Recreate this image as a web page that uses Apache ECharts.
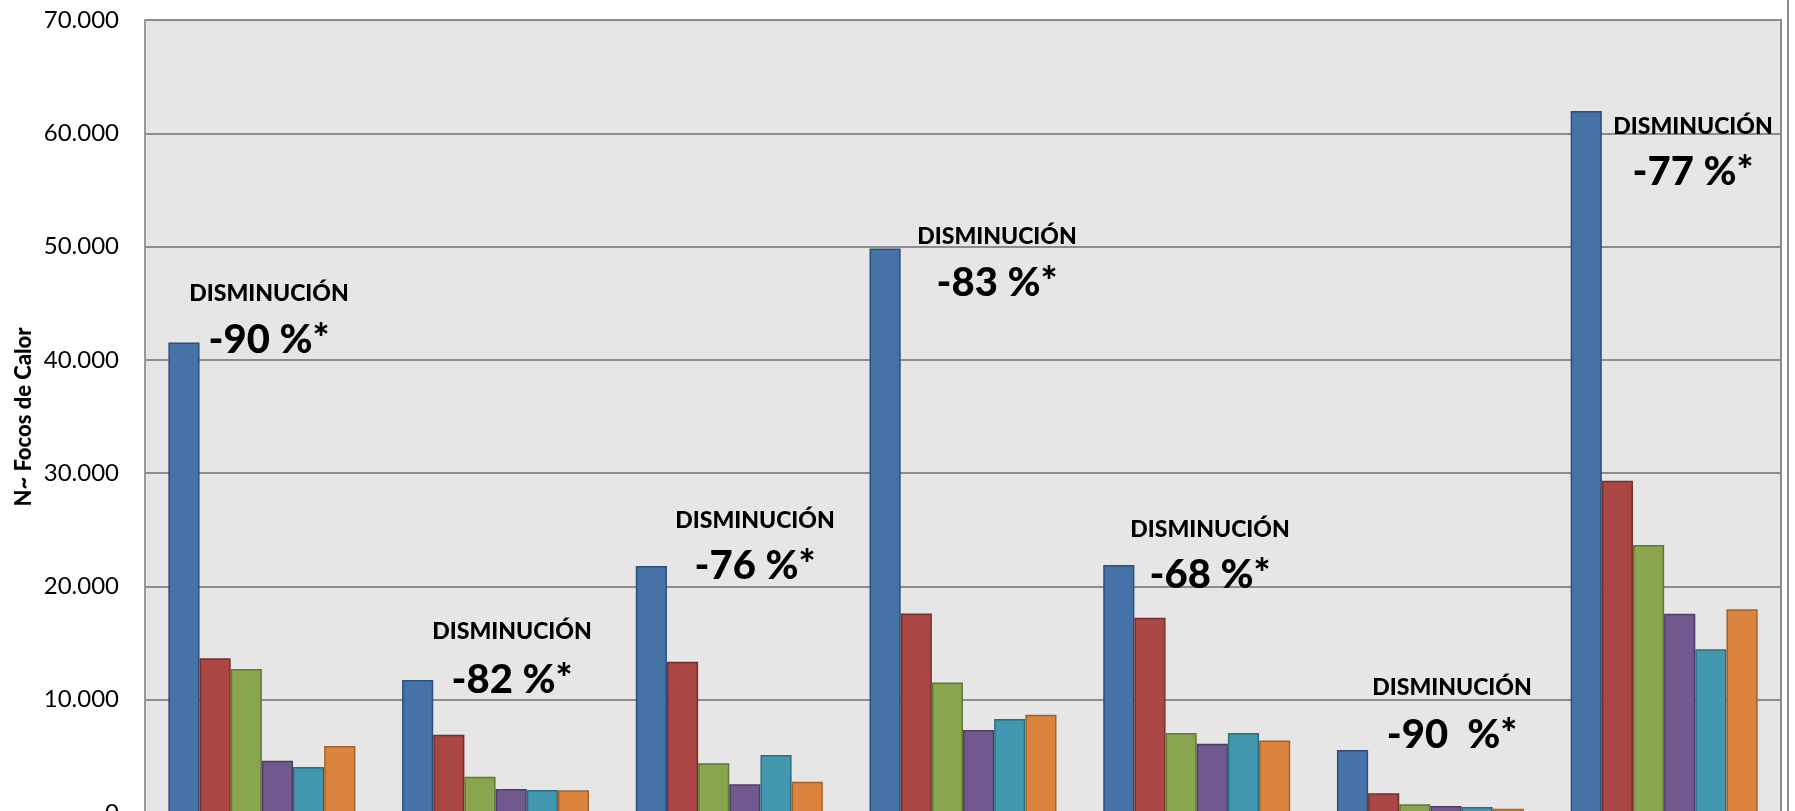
<!DOCTYPE html>
<html>
<head>
<meta charset="utf-8">
<script src="https://cdn.jsdelivr.net/npm/echarts@6/dist/echarts.min.js"></script>
<style>
html,body{margin:0;padding:0;background:#fff;}
#chart{width:1795px;height:811px;}
</style>
</head>
<body>
<div id="chart"></div>
<script>
// Categories (x labels are cropped in the reference)
const categories = ['1', '2', '3', '4', '5', '6', '7'];
const seriesNames = ['Serie 1', 'Serie 2', 'Serie 3', 'Serie 4', 'Serie 5', 'Serie 6'];
const s1 = [41540, 11740, 21800, 49830, 21890, 5560, 61960];
const s2 = [13650, 6910, 13350, 17620, 17240, 1740, 29320];
const s3 = [12710, 3200, 4390, 11530, 7060, 770, 23650];
const s4 = [4620, 2120, 2530, 7330, 6120, 620, 17590];
const s5 = [4060, 2030, 5120, 8300, 7060, 530, 14450];
const s6 = [5910, 2000, 2760, 8680, 6410, 380, 17980];
const yTicks = [0, 10000, 20000, 30000, 40000, 50000, 60000, 70000];
const annotTitle = ['DISMINUCIÓN', 'DISMINUCIÓN', 'DISMINUCIÓN', 'DISMINUCIÓN', 'DISMINUCIÓN', 'DISMINUCIÓN', 'DISMINUCIÓN'];
const annotPct = ['-90 %*', '-82 %*', '-76 %*', '-83 %*', '-68 %*', '-90  %*', '-77 %*'];
const yTitle = 'N~ Focos de Calor';

const allSeries = [s1, s2, s3, s4, s5, s6];
const fills = ['#4572A7', '#AA4643', '#89A54E', '#71588F', '#4198AF', '#DB843D'];
const borders = ['#2D4F7A', '#7A2E2C', '#5F7A33', '#4E3C66', '#2B6F80', '#A85F24'];

// annotation anchor pixels [x, yTitle, yPct]
const annotPos = [
  [269, 294, 340], [512, 632, 680], [755, 521, 566], [997, 237, 283],
  [1210, 530, 575], [1452, 688, 735], [1693, 127, 172]
];

const fmt = v => String(v).replace(/\B(?=(\d{3})+(?!\d))/g, '.');

const chart = echarts.init(document.getElementById('chart'));
const graphics = [];
annotPos.forEach((p, i) => {
  graphics.push({type: 'text', z: 100, style: {text: annotTitle[i], x: p[0], y: p[1], textAlign: 'center', textVerticalAlign: 'middle', font: '900 23px Lato', fill: '#000'}});
  graphics.push({type: 'text', z: 100, style: {text: annotPct[i], x: p[0], y: p[2], textAlign: 'center', textVerticalAlign: 'middle', font: '900 40px Lato', fill: '#000'}});
});
graphics.push({type: 'line', z: 100, shape: {x1: 1788, y1: 0, x2: 1788, y2: 811}, style: {stroke: '#8a8a8a', lineWidth: 2}});
graphics.push({type: 'text', z: 100, rotation: Math.PI / 2, x: 24, y: 417, style: {text: yTitle, textAlign: 'center', textVerticalAlign: 'middle', font: '900 22px Lato', fill: '#000'}});

chart.setOption({
  animation: false,
  backgroundColor: '#ffffff',
  grid: {left: 145, right: 14, top: 20, bottom: -2, outerBoundsMode: 'none', containLabel: false, show: true, backgroundColor: '#e6e6e6', borderColor: '#8a8a8a', borderWidth: 2},
  xAxis: {
    type: 'category', data: categories,
    axisLine: {show: false}, axisTick: {show: false}, axisLabel: {show: false}
  },
  yAxis: {
    type: 'value', min: yTicks[0], max: yTicks[yTicks.length - 1], interval: yTicks[1] - yTicks[0],
    axisLine: {show: true, lineStyle: {color: '#9a9a9a', width: 2}},
    axisTick: {show: false},
    axisLabel: {formatter: fmt, fontFamily: 'Lato', fontSize: 24, color: '#000', margin: 26},
    splitLine: {lineStyle: {color: '#8c8c8c', width: 2}}
  },
  series: allSeries.map((d, i) => ({
    name: seriesNames[i], type: 'bar', data: d,
    barGap: '0%', barCategoryGap: '20%',
    itemStyle: {color: fills[i], borderColor: borders[i], borderWidth: 1.5}
  })),
  graphic: graphics
});
</script>
</body>
</html>
